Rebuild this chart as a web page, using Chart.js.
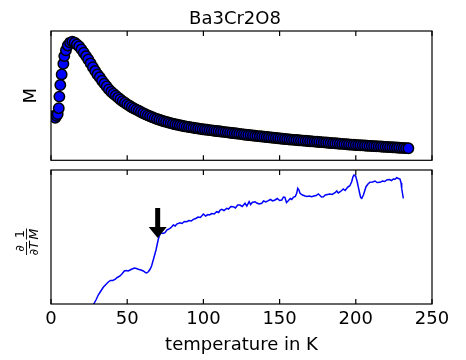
<!DOCTYPE html>
<html>
<head>
<meta charset="utf-8">
<script src="https://cdn.jsdelivr.net/npm/chart.js@4.4.1/dist/chart.umd.min.js"></script>
<style>
  body { margin: 0; background: #fff; }
  #wrap { position: relative; width: 466px; height: 360px; }
  canvas { position: absolute; left: 0; }
  #topChart { top: 0; }
  #bottomChart { top: 167px; }
</style>
</head>
<body>
<div id="wrap">
  <canvas id="topChart" width="466" height="167"></canvas>
  <canvas id="bottomChart" width="466" height="193"></canvas>
</div>
<script>
// titulo y etiquetas
var chartTitle = 'Ba3Cr2O8';
var xTitle = 'temperature in K';
var xTicks = [0, 50, 100, 150, 200, 250];

// panel de arriba: M contra T (unidades arbitrarias)
var tempM = [2.0, 2.8, 3.6, 4.4, 5.1, 5.5, 6.1, 7.0, 8.1, 8.7, 9.8, 11.0, 12.5,
  14, 15.5, 17, 18.5, 20, 21.5, 23, 24.5, 26, 27.5, 29, 30.5, 32, 33.5, 35, 36.5, 38, 39.5,
  41, 42.5, 44, 45.5, 47, 48.5, 50, 51.5, 53, 54.5, 56, 57.5, 59, 60.5, 62, 63.5, 65, 66.5,
  68, 69.5, 71, 72.5, 74, 75.5, 77, 78.5, 80, 81.5, 83, 84.5, 86, 87.5, 89, 90.5, 92, 93.5,
  95, 96.5, 98, 99.5, 101, 102.5, 104, 105.5, 107, 108.5, 110, 111.5, 113, 114.5, 116, 117.5, 119, 120.5,
  122, 123.5, 125, 126.5, 128, 129.5, 131, 132.5, 134, 135.5, 137, 138.5, 140, 141.5, 143, 144.5,
  146, 147.5, 149, 150.5, 152, 153.5, 155, 156.5, 158, 159.5, 161, 162.5, 164, 165.5, 167, 168.5,
  170, 171.5, 173, 174.5, 176, 177.5, 179, 180.5, 182, 183.5, 185, 186.5, 188, 189.5, 191, 192.5,
  194, 195.5, 197, 198.5, 200, 201.5, 203, 204.5, 206, 207.5, 209, 210.5, 212, 213.5, 215, 216.5,
  218, 219.5, 221, 222.5, 224, 225.5, 227, 228.5, 230, 231.5, 233, 234.5];
var magM = [46, 44, 46, 48, 54, 66, 78, 89, 100, 108, 114, 119, 122,
  123, 122, 120, 118, 115, 111.5, 108, 104.5, 100.5, 96.5, 92.5, 89, 86, 82.5, 79.5, 76.5, 73.5, 71,
  69, 67, 65, 63, 61.2, 59.6, 58, 56.5, 55, 53.7, 52.5, 51.3, 50, 48.8, 47.7, 46.6, 45.6, 44.6,
  43.7, 42.8, 42, 41.2, 40.5, 39.8, 39.1, 38.5, 37.9, 37.3, 36.8, 36.3, 35.8, 35.3, 34.9, 34.5, 34.1, 33.7,
  33.3, 32.9, 32.6, 32.2, 31.9, 31.6, 31.3, 31, 30.7, 30.4, 30.1, 29.8, 29.5, 29.2, 28.9, 28.6, 28.3, 28,
  27.7, 27.4, 27.1, 26.8, 26.5, 26.2, 26, 25.7, 25.4, 25.1, 24.9, 24.6, 24.4, 24.1, 23.9, 23.6,
  23.4, 23.1, 22.9, 22.6, 22.4, 22.1, 21.9, 21.6, 21.4, 21.2, 21, 20.8, 20.6, 20.4, 20.2, 20,
  19.8, 19.6, 19.4, 19.2, 19, 18.8, 18.6, 18.4, 18.2, 18, 17.8, 17.6, 17.4, 17.2, 17, 16.8,
  16.6, 16.4, 16.2, 16.05, 15.9, 15.75, 15.6, 15.45, 15.3, 15.15, 15, 14.85, 14.7, 14.55, 14.4, 14.25,
  14.1, 13.95, 13.8, 13.65, 13.5, 13.35, 13.2, 13.05, 12.9, 12.75, 12.6, 12.45];

// panel de abajo: d/dT (1/M)
var tempD = [27, 28.4, 29.5, 31, 32.5, 34.3, 36, 37.6, 39, 40.5, 42, 43.5, 45.3, 46.8, 48.1, 49.5, 50.7, 52.5, 54.7, 56,
  57.3, 59, 60.6, 62, 62.8, 64, 65, 66, 67.1, 68, 68.9, 69.6, 70.4, 71.3, 72.2, 73.5, 74.8, 76, 77, 78.5,
  80.3, 81.5, 82.5, 84.6, 86, 87.5, 89, 90.5, 92, 93.4, 95, 96.5, 98, 100, 101.5, 103, 104, 105.5, 107, 108.7,
  110, 111, 112, 113.5, 115.3, 116.5, 118, 119.6, 121, 122.5, 124, 125.5, 127.3, 128.5, 130, 131, 132, 133.9, 135, 136.5,
  138.3, 139.5, 141, 142.6, 144, 145.5, 147, 148.5, 150, 151.4, 152.5, 153.5, 154.5, 155.7, 157, 158, 159, 160.3, 161.2, 161.9,
  162.7, 163.4, 165, 166.7, 168, 169.5, 171, 172.5, 174, 175.4, 176.5, 177.5, 178.7, 180, 181.5, 183, 184.5, 186.4, 187.5, 188.5,
  190, 191.8, 193, 194, 195, 196, 197.3, 198.1, 198.8, 199.5, 200, 200.8, 201.6, 202.5, 203.2, 203.9, 205, 206, 206.7, 208,
  209.3, 211, 212.6, 214, 215.9, 217.5, 219, 220.3, 222, 223.5, 224.6, 225.8, 226.8, 228, 229, 229.7, 230.1, 230.7, 231.2];
var derivD = [-3, 1, 4, 9, 12.5, 16.7, 19.5, 22, 23.5, 23.5, 24.7, 26.5, 28, 30.5, 33, 33.5, 33, 34.5, 36, 35.5,
  34.7, 34, 33, 31.5, 31, 32.5, 34.7, 38, 44, 49, 54, 59, 64.7, 69, 71.3, 70.5, 71.3, 74, 74.7, 76,
  79, 78, 80, 81.3, 80.5, 82.5, 82.3, 83.5, 83, 84.7, 85.5, 87, 86.5, 90, 88, 89.5, 89, 90.5, 90, 92.3,
  91.5, 94, 94.7, 93.5, 95.7, 95, 97.5, 97.3, 96, 99, 99, 97.5, 100.7, 98, 102.3, 99.5, 101.5, 102.3, 101, 100,
  100.7, 103, 102, 103.3, 104.5, 103, 104, 105.5, 103.5, 104, 107, 106.7, 101.5, 103.3, 105.5, 104.5, 106.7, 107.5, 110.7, 115.7,
  114, 110.7, 109, 108, 107.5, 108, 107.3, 108, 108.5, 110, 108.5, 107, 107.3, 109, 109.5, 110, 109.5, 111.3, 113, 111,
  112.5, 115, 113.5, 115.5, 117.3, 118, 122.3, 127, 129, 128.5, 127.3, 123, 117.3, 111, 106.5, 105.7, 109, 114, 117.3, 120,
  121.7, 122, 123, 121.5, 121.7, 123, 122.5, 124, 124.5, 123.5, 125, 124.8, 126.3, 125.5, 125, 121, 115.7, 110, 105.7];

// flecha que marca la transicion
var arrowT = 70;
var arrowFrom = 96;
var arrowTo = 66;

Chart.defaults.font.family = 'DejaVu Sans';
Chart.defaults.color = '#000';

// marco y ticks hacia adentro (estilo matplotlib)
var framePlugin = {
  id: 'frame',
  afterDraw: function (chart) {
    var ctx = chart.ctx, a = chart.chartArea, x = chart.scales.x;
    ctx.save();
    ctx.strokeStyle = '#000';
    ctx.lineWidth = 1.2;
    ctx.strokeRect(a.left, a.top, a.right - a.left, a.bottom - a.top);
    ctx.beginPath();
    xTicks.forEach(function (v) {
      var px = x.getPixelForValue(v);
      ctx.moveTo(px, a.bottom); ctx.lineTo(px, a.bottom - 5);
      ctx.moveTo(px, a.top); ctx.lineTo(px, a.top + 5);
    });
    ctx.stroke();
    ctx.restore();
  }
};

var arrowPlugin = {
  id: 'arrow',
  afterDatasetsDraw: function (chart) {
    var ctx = chart.ctx, x = chart.scales.x, y = chart.scales.y;
    var px = x.getPixelForValue(arrowT);
    var top = y.getPixelForValue(arrowFrom);
    var tip = y.getPixelForValue(arrowTo);
    ctx.save();
    ctx.fillStyle = '#000';
    ctx.fillRect(px - 2.5, top, 5, tip - 11 - top);
    ctx.beginPath();
    ctx.moveTo(px - 9, tip - 11);
    ctx.lineTo(px + 9, tip - 11);
    ctx.lineTo(px, tip);
    ctx.closePath();
    ctx.fill();
    ctx.restore();
  }
};

// etiqueta del eje y de abajo: d/dT 1/M como fracciones
var fracLabelPlugin = {
  id: 'fracLabel',
  afterDraw: function (chart) {
    var ctx = chart.ctx, a = chart.chartArea;
    ctx.save();
    ctx.translate(26.5, (a.top + a.bottom) / 2 + 4);
    ctx.rotate(-Math.PI / 2);
    ctx.fillStyle = '#000';
    ctx.textAlign = 'center';
    ctx.textBaseline = 'alphabetic';
    ctx.font = '12.5px "DejaVu Sans"';
    ctx.fillText('\u2202', -7.5, -3);
    ctx.fillText('1', 7, -3);
    ctx.font = 'italic 12.5px "DejaVu Sans"';
    ctx.fillText('\u2202T', -7.5, 11.5);
    ctx.fillText('M', 7, 11.5);
    ctx.fillRect(-14, -0.5, 13, 0.9);
    ctx.fillRect(1.5, -0.5, 11, 0.9);
    ctx.restore();
  }
};

var topChart = new Chart(document.getElementById('topChart'), {
  type: 'scatter',
  data: {
    datasets: [{
      data: tempM.map(function (t, i) { return { x: t, y: magM[i] }; }),
      pointRadius: 5.2,
      pointBackgroundColor: '#0000ff',
      pointBorderColor: '#000',
      pointBorderWidth: 1.5,
      showLine: false
    }]
  },
  options: {
    responsive: false,
    animation: false,
    events: [],
    layout: { padding: { left: 38, right: 34, top: 0, bottom: 2 } },
    plugins: {
      legend: { display: false },
      tooltip: { enabled: false },
      title: {
        display: true,
        text: chartTitle,
        color: '#000',
        font: { size: 18, weight: 'normal' },
        padding: { top: 8.5, bottom: 0.9 }
      }
    },
    scales: {
      x: { type: 'linear', min: 0, max: 250, display: false },
      y: {
        min: 0, max: 134,
        ticks: { display: false },
        grid: { display: false },
        border: { display: false },
        title: { display: true, text: 'M', color: '#000', font: { size: 18 }, padding: { top: -17.3, bottom: 0 } },
        afterFit: function (s) { s.width = 13; }
      }
    }
  },
  plugins: [framePlugin]
});

var bottomChart = new Chart(document.getElementById('bottomChart'), {
  type: 'scatter',
  data: {
    datasets: [{
      data: tempD.map(function (t, i) { return { x: t, y: derivD[i] }; }),
      showLine: true,
      borderColor: '#0000ff',
      borderWidth: 1.5,
      pointRadius: 0,
      tension: 0
    }]
  },
  options: {
    responsive: false,
    animation: false,
    events: [],
    layout: { padding: { left: 51, right: 34, top: 3, bottom: 0 } },
    plugins: { legend: { display: false }, tooltip: { enabled: false } },
    scales: {
      x: {
        type: 'linear', min: 0, max: 250,
        afterBuildTicks: function (s) { s.ticks = xTicks.map(function (v) { return { value: v }; }); },
        ticks: { color: '#000', font: { size: 18 }, padding: 5, maxRotation: 0 },
        grid: { display: false, drawTicks: false },
        border: { display: false },
        title: { display: true, text: xTitle, color: '#000', font: { size: 18 }, padding: { top: 0, bottom: 4.2 } },
        afterFit: function (s) { s.height = 56; }
      },
      y: { min: 0, max: 134, display: false }
    }
  },
  plugins: [framePlugin, arrowPlugin, fracLabelPlugin]
});
</script>
</body>
</html>
